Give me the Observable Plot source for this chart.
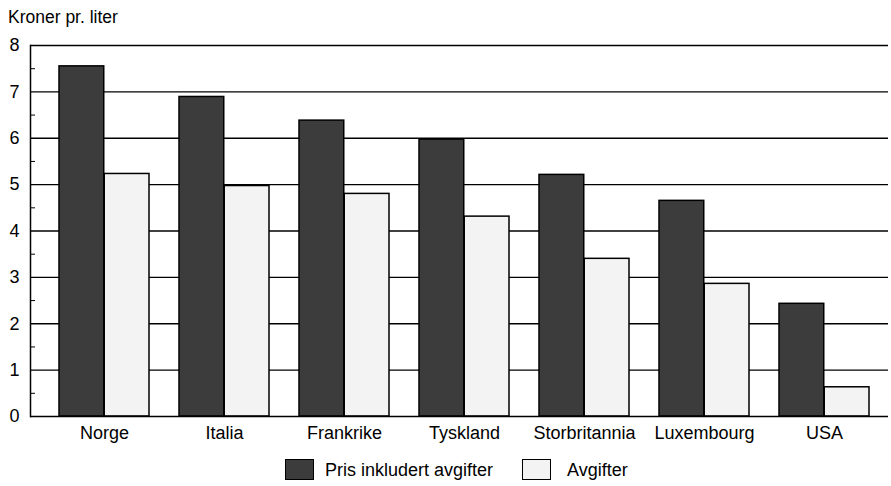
<!DOCTYPE html>
<html>
<head>
<meta charset="utf-8">
<script src="https://cdn.jsdelivr.net/npm/d3@7"></script>
<script src="https://cdn.jsdelivr.net/npm/@observablehq/plot@0.6"></script>
<style>
  body { margin: 0; background: #fff; font-family: "Liberation Sans", Arial, sans-serif; color: #000; }
  #title { height: 32px; font-size: 17.5px; padding-left: 8px; line-height: 34px; box-sizing: border-box; }
  #legend { height: 34px; position: relative; font-size: 18px; }
  .sw { position: absolute; top: 7px; width: 29px; height: 21px; border: 1.5px solid #000; box-sizing: border-box; }
  .lt { position: absolute; top: 8px; line-height: 20px; }
</style>
</head>
<body>
<div id="title">Kroner pr. liter</div>
<div id="chart"></div>
<div id="legend">
  <div class="sw" style="left:285px;background:#3c3c3c"></div>
  <div class="lt" style="left:325px">Pris inkludert avgifter</div>
  <div class="sw" style="left:522px;background:#f3f3f3"></div>
  <div class="lt" style="left:567px">Avgifter</div>
</div>
<script>
const countries = ["Norge", "Italia", "Frankrike", "Tyskland", "Storbritannia", "Luxembourg", "USA"];
const prisInklAvgifter = [7.55, 6.89, 6.38, 5.97, 5.21, 4.65, 2.43];
const avgifter = [5.23, 4.97, 4.80, 4.31, 3.40, 2.86, 0.63];
const yTicks = [0, 1, 2, 3, 4, 5, 6, 7, 8];
const yMinorTicks = [0.5, 1.5, 2.5, 3.5, 4.5, 5.5, 6.5, 7.5];

const dark = countries.map((c, i) => ({country: c, value: prisInklAvgifter[i]}));
const light = countries.map((c, i) => ({country: c, value: avgifter[i]}));

const plot = Plot.plot({
  width: 891,
  height: 420,
  marginLeft: 30,
  marginRight: 3,
  marginTop: 13,
  marginBottom: 36,
  style: {fontFamily: "'Liberation Sans', Arial, sans-serif", fontSize: "18px", color: "#000", background: "#fff"},
  x: {domain: countries, paddingInner: 0.25, paddingOuter: 0.125, insetLeft: 11, insetRight: 2},
  y: {domain: [0, 8]},
  marks: [
    Plot.ruleY(yTicks.slice(1), {stroke: "#000", strokeWidth: 1.3}),
    Plot.barY(dark, {x: "country", y: "value", fill: "#3c3c3c", stroke: "#000", strokeWidth: 1.5, insetRight: 45.25}),
    Plot.barY(light, {x: "country", y: "value", fill: "#f3f3f3", stroke: "#000", strokeWidth: 1.5, insetLeft: 45.25}),
    Plot.ruleY([0], {stroke: "#000", strokeWidth: 1.5}),
    Plot.frame({anchor: "left", stroke: "#000", strokeWidth: 1.5}),
    Plot.axisY({ticks: yTicks, tickSize: 0, tickPadding: 11, fontSize: 18, label: null}),
    Plot.axisY({ticks: yMinorTicks, tickSize: -5, tickFormat: () => "", label: null}),
    Plot.axisX({tickSize: 0, tickPadding: 10, fontSize: 18, label: null})
  ]
});
document.getElementById("chart").appendChild(plot);
</script>
</body>
</html>
